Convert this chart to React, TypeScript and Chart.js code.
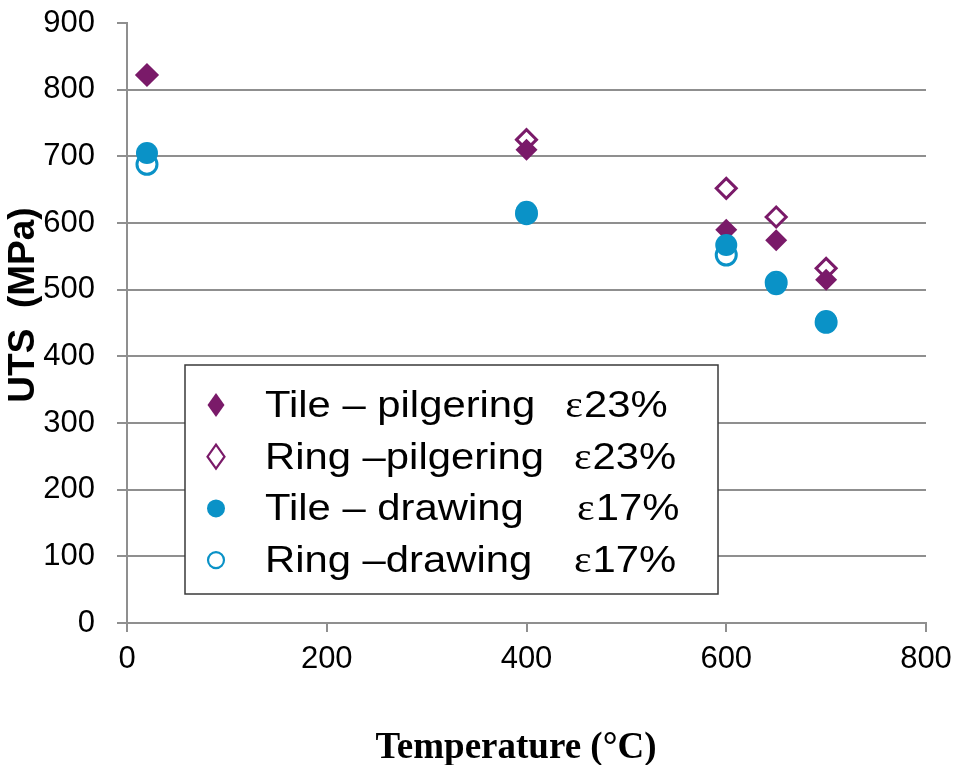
import React, { useEffect, useRef } from "react";
import { Chart, registerables } from "chart.js";

Chart.register(...registerables);

const temperatures = [20, 400, 600, 650, 700];
const tilePilgering = [822, 710, 590, 574, 515];
const ringPilgering = [822, 725, 652, 609, 532];
const tileDrawing = [705, 617, 567, 508, 453];
const ringDrawing = [688, 614, 552, 511, 451];

const seriesLabels = [
  "Tile – pilgering  ε23%",
  "Ring –pilgering  ε23%",
  "Tile – drawing    ε17%",
  "Ring –drawing   ε17%",
];

const xRange = [0, 800];
const xStep = 200;
const yRange = [0, 900];
const yStep = 100;

const xTitle = "Temperature (°C)";
const yTitle = "UTS  (MPa)";

const PURPLE = "#7a1a69";
const BLUE = "#0a92c7";
const GRID = "#8f8f8f";

const toPoints = (ys: number[]) => temperatures.map((x, i) => ({ x, y: ys[i] }));

const decorPlugin = {
  id: "decor",
  afterDraw(chart: any) {
    const ctx: CanvasRenderingContext2D = chart.ctx;
    ctx.save();

    // Legend box
    const bx = 185, by = 365, bw = 533, bh = 229;
    ctx.fillStyle = "#ffffff";
    ctx.fillRect(bx, by, bw, bh);
    ctx.strokeStyle = "#3a3a3a";
    ctx.lineWidth = 1.5;
    ctx.strokeRect(bx, by, bw, bh);

    const sans = '37px "Liberation Sans"';
    const serif = '37px "Liberation Serif"';
    chart.data.datasets.forEach((ds: any, i: number) => {
      const baseline = 417 + i * 51.7;
      const mx = 216;
      const my = baseline - 12;
      ctx.save();
      ctx.beginPath();
      if (ds.pointStyle === "rectRot") {
        ctx.moveTo(mx, my - 12);
        ctx.lineTo(mx + 8.5, my);
        ctx.lineTo(mx, my + 12);
        ctx.lineTo(mx - 8.5, my);
        ctx.closePath();
      } else {
        ctx.arc(mx, my, ds.filled ? 9 : 8, 0, Math.PI * 2);
      }
      if (ds.filled) {
        ctx.fillStyle = ds.pointBorderColor;
        ctx.fill();
      } else {
        ctx.fillStyle = "#fff";
        ctx.fill();
        ctx.lineWidth = 2.2;
        ctx.strokeStyle = ds.pointBorderColor;
        ctx.stroke();
      }
      ctx.restore();

      const label: string = seriesLabels[i];
      const k = label.indexOf("ε");
      const pre = label.slice(0, k);
      const rest = label.slice(k + 1);
      ctx.save();
      ctx.translate(265, baseline);
      ctx.scale(1.13, 1);
      ctx.fillStyle = "#000";
      ctx.textBaseline = "alphabetic";
      ctx.textAlign = "left";
      ctx.font = sans;
      ctx.fillText(pre, 0, 0);
      let w = ctx.measureText(pre).width + 6;
      ctx.font = serif;
      ctx.fillText("ε", w, 0);
      w += ctx.measureText("ε").width + 1;
      ctx.font = sans;
      ctx.fillText(rest, w, 0);
      ctx.restore();
    });

    // Axis titles
    ctx.fillStyle = "#000";
    ctx.font = 'bold 37px "Liberation Serif"';
    ctx.textAlign = "center";
    ctx.textBaseline = "alphabetic";
    ctx.fillText(xTitle, 516, 758);

    ctx.save();
    ctx.translate(34, 305);
    ctx.rotate(-Math.PI / 2);
    ctx.font = 'bold 37px "Liberation Sans"';
    ctx.textAlign = "center";
    ctx.textBaseline = "alphabetic";
    ctx.fillText(yTitle, 0, 0);
    ctx.restore();

    ctx.restore();
  },
};

export default function App() {
  const ref = useRef<HTMLCanvasElement | null>(null);

  useEffect(() => {
    if (!ref.current) return;
    const filled = (data: number[], style: string, color: string, r: number, order: number) => ({
      data: toPoints(data),
      pointStyle: style,
      pointRadius: r,
      pointBackgroundColor: color,
      pointBorderColor: color,
      pointBorderWidth: 0,
      showLine: false,
      filled: true,
      order,
    });
    const open = (data: number[], style: string, color: string, r: number, order: number) => ({
      data: toPoints(data),
      pointStyle: style,
      pointRadius: r,
      pointBackgroundColor: "#ffffff",
      pointBorderColor: color,
      pointBorderWidth: 3,
      showLine: false,
      filled: false,
      order,
    });

    const chart = new Chart(ref.current, {
      type: "scatter",
      data: {
        datasets: [
          { label: seriesLabels[0], ...filled(tilePilgering, "rectRot", PURPLE, 11, 2) },
          { label: seriesLabels[1], ...open(ringPilgering, "rectRot", PURPLE, 10, 3) },
          { label: seriesLabels[2], ...filled(tileDrawing, "circle", BLUE, 11, 0) },
          { label: seriesLabels[3], ...open(ringDrawing, "circle", BLUE, 10, 1) },
        ] as any,
      },
      options: {
        animation: false,
        responsive: false,
        devicePixelRatio: 1,
        layout: { padding: { top: 23, right: 29, left: 0, bottom: 0 } },
        plugins: {
          legend: { display: false },
          tooltip: { enabled: false },
        },
        scales: {
          x: {
            type: "linear",
            min: xRange[0],
            max: xRange[1],
            ticks: {
              stepSize: xStep,
              color: "#000",
              font: { family: '"Liberation Sans"', size: 31 },
              padding: 9,
            },
            grid: {
              drawOnChartArea: false,
              tickLength: 9,
              tickColor: GRID,
              lineWidth: 2,
            },
            border: { color: GRID, width: 2 },
            afterFit(scale: any) {
              scale.height = 142;
              scale.paddingLeft = 0;
              scale.paddingRight = 0;
            },
          },
          y: {
            type: "linear",
            min: yRange[0],
            max: yRange[1],
            ticks: {
              stepSize: yStep,
              color: "#000",
              font: { family: '"Liberation Sans"', size: 31 },
              padding: 22,
            },
            grid: {
              color: (c: any) => (c.tick && c.tick.value === yRange[1] ? "rgba(0,0,0,0)" : GRID),
              tickColor: GRID,
              tickLength: 10,
              lineWidth: 2,
            },
            border: { color: GRID, width: 2 },
            afterFit(scale: any) {
              scale.width = 127;
              scale.paddingTop = 0;
              scale.paddingBottom = 0;
            },
          },
        },
      } as any,
      plugins: [decorPlugin],
    });
    return () => chart.destroy();
  }, []);

  return (
    <div style={{ position: "fixed", left: 0, top: 0, width: 955, height: 765, background: "#fff" }}>
      <canvas ref={ref} width={955} height={765} />
    </div>
  );
}
